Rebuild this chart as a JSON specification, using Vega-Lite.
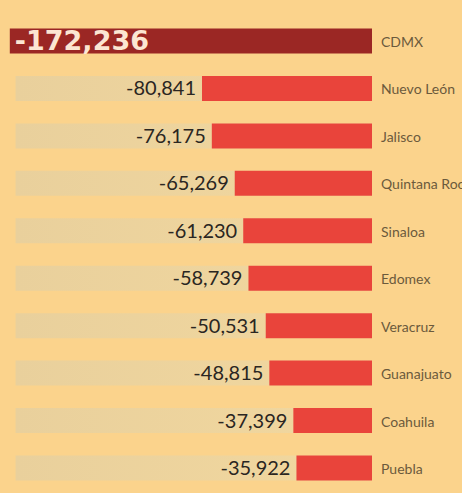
{
  "$schema": "https://vega.github.io/schema/vega-lite/v6.json",
  "width": 462,
  "height": 493,
  "autosize": {"type": "none"},
  "padding": 0,
  "background": "#FBD38C",
  "config": {"view": {"stroke": null}},
  "data": {
    "values": [
      {"state": "CDMX", "value": -172236},
      {"state": "Nuevo León", "value": -80841},
      {"state": "Jalisco", "value": -76175},
      {"state": "Quintana Roo", "value": -65269},
      {"state": "Sinaloa", "value": -61230},
      {"state": "Edomex", "value": -58739},
      {"state": "Veracruz", "value": -50531},
      {"state": "Guanajuato", "value": -48815},
      {"state": "Coahuila", "value": -37399},
      {"state": "Puebla", "value": -35922}
    ]
  },
  "transform": [
    {"calculate": "'-' + format(-datum.value, ',')", "as": "label"}
  ],
  "encoding": {
    "y": {
      "field": "state",
      "type": "nominal",
      "axis": null,
      "scale": {
        "domain": ["CDMX", "Nuevo León", "Jalisco", "Quintana Roo", "Sinaloa", "Edomex", "Veracruz", "Guanajuato", "Coahuila", "Puebla"],
        "paddingInner": 0.473, "paddingOuter": 0.432, "align": 0.695
      }
    }
  },
  "layer": [
    {
      "transform": [{"filter": "datum.state !== 'CDMX'"}],
      "mark": {
        "type": "bar",
        "color": {
          "x1": 0, "y1": 0, "x2": 1, "y2": 0,
          "gradient": "linear",
          "stops": [
            {"offset": 0, "color": "#E9D09C"},
            {"offset": 1, "color": "#F2D89F"}
          ]
        }
      },
      "encoding": {
        "x": {"datum": -169500, "type": "quantitative", "scale": {"domain": [-176900, 42800], "nice": false, "zero": false}, "axis": null},
        "x2": {"datum": 0}
      }
    },
    {
      "mark": {"type": "bar"},
      "encoding": {
        "x": {"field": "value", "type": "quantitative"},
        "x2": {"datum": 0},
        "color": {
          "condition": {"test": "datum.state === 'CDMX'", "value": "#9B2724"},
          "value": "#E9443B"
        }
      }
    },
    {
      "mark": {"type": "rule", "color": "#3B3024", "strokeWidth": 1.5},
      "encoding": {"x": {"datum": 0}}
    },
    {
      "transform": [{"filter": "datum.state !== 'CDMX'"}],
      "mark": {"type": "text", "align": "right", "baseline": "middle", "dx": -6, "dy": 1, "font": "Lato", "fontSize": 20, "color": "#2A2622"},
      "encoding": {
        "x": {"field": "value", "type": "quantitative"},
        "text": {"field": "label"}
      }
    },
    {
      "transform": [{"filter": "datum.state === 'CDMX'"}],
      "mark": {"type": "text", "align": "left", "baseline": "middle", "dx": 5, "dy": 1, "font": "DejaVu Sans", "fontWeight": "bold", "fontSize": 27, "color": "#FCE6D2"},
      "encoding": {
        "x": {"field": "value", "type": "quantitative"},
        "text": {"field": "label"}
      }
    },
    {
      "mark": {"type": "text", "align": "left", "baseline": "middle", "dx": 9, "dy": 2, "font": "Lato", "fontSize": 14, "color": "#6B5A3C"},
      "encoding": {
        "x": {"datum": 0},
        "text": {"field": "state"}
      }
    }
  ]
}
